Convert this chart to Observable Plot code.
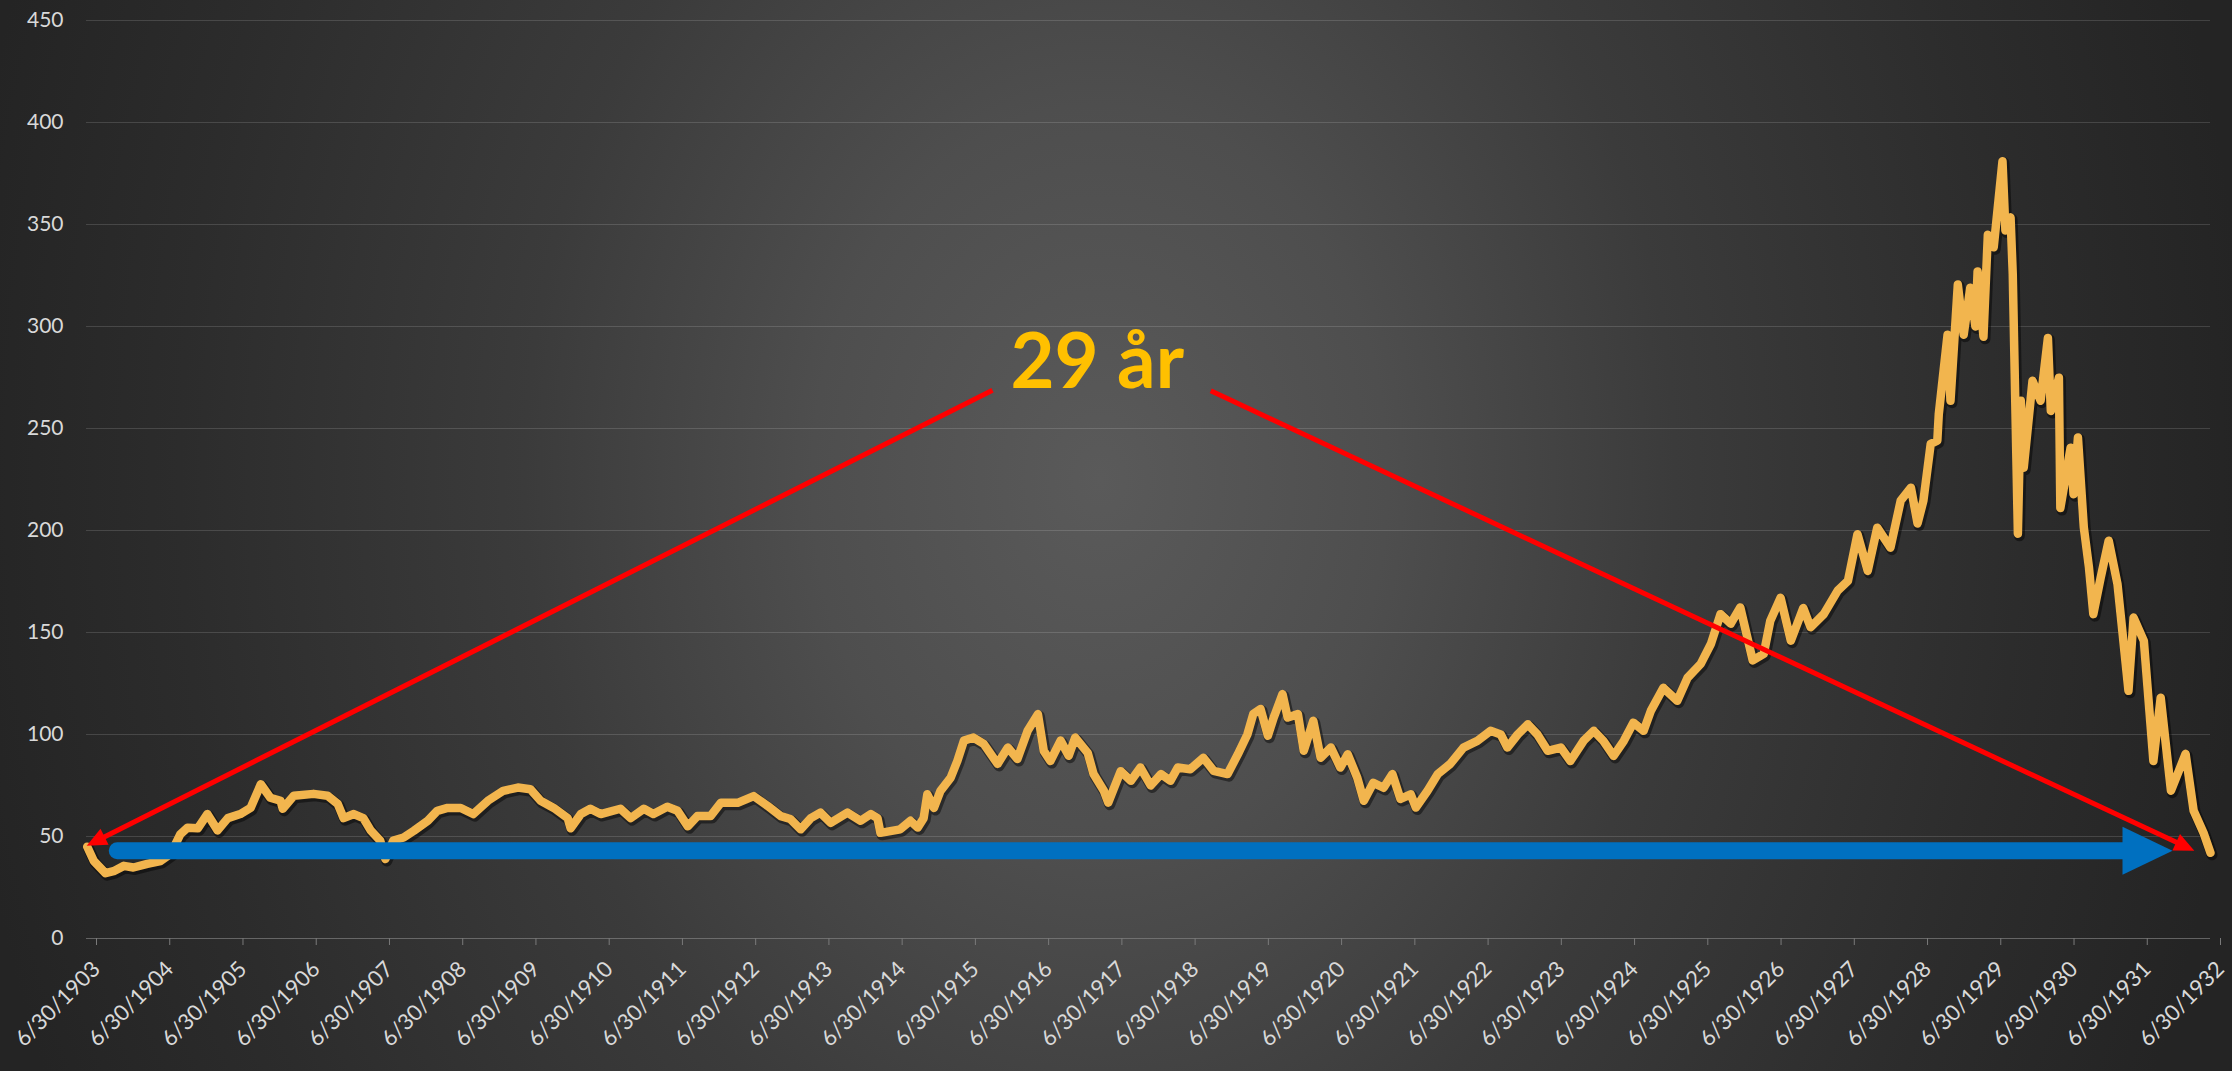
<!DOCTYPE html>
<html>
<head>
<meta charset="utf-8">
<script src="https://cdn.jsdelivr.net/npm/d3@7"></script>
<script src="https://cdn.jsdelivr.net/npm/@observablehq/plot@0.6"></script>
<style>
  html, body { margin: 0; padding: 0; width: 2232px; height: 1071px; overflow: hidden; }
  body {
    background: radial-gradient(ellipse 1150px 1500px at 1100px 480px,
      #5a5a5a 0%, #4e4e4e 25%, #3b3b3b 50%, #2c2c2c 80%, #242424 100%);
  }
  #chart svg { display: block; }
</style>
</head>
<body>
<div id="chart"></div>
<script>
// Dow Jones Industrial Average (decimal years)
const dates = [
  1903.51,1903.60,1903.76,1903.87,1904.01,1904.14,1904.33,1904.51,1904.65,1904.78,1904.88,
  1905.02,1905.15,1905.29,1905.43,1905.60,1905.74,1905.88,1906.01,1906.15,1906.18,1906.33,
  1906.60,1906.79,1906.93,1907.01,1907.15,1907.28,1907.38,1907.51,1907.58,1907.69,1907.83,
  1907.97,1908.16,1908.29,1908.43,1908.61,1908.78,1908.98,1909.19,1909.39,1909.56,1909.70,
  1909.88,1910.07,1910.11,1910.25,1910.38,1910.52,1910.79,1910.93,1911.11,1911.24,1911.43,
  1911.57,1911.71,1911.84,1912.02,1912.16,1912.39,1912.61,1912.80,1912.98,1913.11,1913.25,
  1913.39,1913.52,1913.66,1913.89,1914.07,1914.21,1914.30,1914.34,1914.61,1914.75,1914.85,
  1914.93,1914.98,1915.07,1915.16,1915.30,1915.39,1915.48,1915.61,1915.75,1915.94,1916.08,
  1916.21,1916.35,1916.49,1916.57,1916.66,1916.80,1916.91,1917.00,1917.17,1917.25,1917.39,
  1917.45,1917.62,1917.76,1917.89,1918.03,1918.17,1918.30,1918.40,1918.57,1918.75,1918.89,
  1919.08,1919.22,1919.35,1919.43,1919.53,1919.63,1919.71,1919.83,1919.90,1920.04,1920.12,
  1920.25,1920.35,1920.49,1920.62,1920.72,1920.85,1920.94,1921.07,1921.21,1921.33,1921.44,
  1921.58,1921.65,1921.81,1921.95,1922.12,1922.30,1922.49,1922.67,1922.81,1922.90,1923.04,
  1923.18,1923.31,1923.45,1923.63,1923.76,1923.94,1924.08,1924.21,1924.35,1924.49,1924.62,
  1924.76,1924.86,1925.03,1925.22,1925.36,1925.54,1925.68,1925.81,1925.95,1926.08,1926.25,
  1926.40,1926.49,1926.63,1926.77,1926.94,1927.04,1927.22,1927.41,1927.55,1927.68,1927.82,
  1927.95,1928.13,1928.27,1928.41,1928.50,1928.58,1928.68,1928.77,1928.79,1928.91,1928.95,
  1929.05,1929.13,1929.22,1929.29,1929.32,1929.40,1929.46,1929.54,1929.66,1929.70,1929.77,
  1929.80,1929.87,1929.91,1929.95,1930.07,1930.18,1930.28,1930.32,1930.43,1930.45,1930.59,
  1930.63,1930.69,1930.77,1930.84,1930.90,1931.00,1931.11,1931.23,1931.31,1931.38,1931.45,
  1931.59,1931.72,1931.82,1931.96,1932.16,1932.27,1932.41,1932.50
];
const values = [
  45,38,32,33,35.6,34.8,36.6,38,41.5,51,54.3,
  54,61,53,59,61,64,75.6,69,67.5,63.6,70,
  70.9,70,66,59,61,59,53,48,39,48,49.5,
  52.8,57.7,62.6,64,64,61,67.5,72.4,74,73.2,67.5,
  64,59,54,61,63.6,61,63.6,59,63.6,61,64.6,
  62.6,55,60,60,66.5,66.5,69.8,65,60,58.6,53.5,
  59,61.7,56.7,61.7,57.7,61,59,51.8,53.5,57.7,54.4,
  59,70.7,64,72.4,78.9,87,97,98.5,95.4,85.6,93.6,
  88,101.8,110,92,87,97,89.6,98.5,91,80.6,72.4,
  66.6,82,77.3,83.8,75,80.6,77.3,83.8,83,88.6,82.2,
  80.6,90.3,100,110,112.5,99.4,108.3,119.8,108.3,110,92,
  106.7,88.6,93.6,83.8,90.3,78.9,67.5,76.3,73.9,80.6,68.4,
  70.7,64.2,72.4,80.6,85.6,93.6,96.9,101.8,100,93.6,100,
  105,100,92,93.6,87,96.9,101.8,96.9,89.5,96.9,105.8,
  101.8,111.7,122.9,116.5,127.8,134.6,144.5,159,154.3,162.3,136.3,
  139.5,155.8,167,146,162,152.6,159,170.5,175.3,198.2,180.2,
  201.4,191.6,214.6,221,203.4,214.6,242.5,244,257,296,263.6,
  320.6,296,319,300,327,295,345,338.8,381,347,353.5,
  325.7,198.4,263.6,230.8,273.4,263.6,294.4,258.6,274.9,211,240.6,
  217.8,245.6,201.6,182,159,176.8,195,173.7,145.9,121.4,157.3,
  145.9,87,118,72.4,90.5,62.6,51.3,42
];

const yTicks = [0, 50, 100, 150, 200, 250, 300, 350, 400, 450];
const tickYears = d3.range(1903, 1933);
const xTicks = tickYears.map(y => y + 0.5);          // 30 June of each year
const xTickLabels = tickYears.map(y => `6/30/${y}`);

// Annotations (data coordinates)
const redFromX = [1915.87, 1918.85];
const redFromY = [268.8, 268.5];
const redToX   = [1903.60, 1932.18];
const redToY   = [47.2, 44.7];
const blueFromX = [1903.92];
const blueToX   = [1931.64];
const blueY     = [43];
const labelX = [1917.3];
const labelY = [270];
const labelText = ["29 år"];

const series = dates.map((d, i) => ({date: d, value: values[i]}));

const chart = Plot.plot({
  width: 2232,
  height: 1071,
  marginLeft: 86,
  marginRight: 22,
  marginTop: 20,
  marginBottom: 133,
  style: {background: "transparent", color: "#d9d9d9", fontFamily: "Lato, 'Open Sans', sans-serif"},
  x: {domain: [1903.5, 1932.5]},
  y: {domain: [0, 450]},
  marks: [
    Plot.gridY(yTicks, {stroke: "#ffffff", strokeOpacity: 0.14, strokeWidth: 1.2}),
    Plot.ruleY([0], {stroke: "#7a7a7a", strokeOpacity: 0.6, strokeWidth: 1.2}),
    Plot.axisY(yTicks, {
      tickSize: 0, tickPadding: 23, fontSize: 21, fill: "#d9d9d9", label: null
    }),
    Plot.axisX(xTicks, {
      tickSize: 7, tickPadding: 20, tickRotate: -45, fontSize: 22,
      stroke: "#7a7a7a", fill: "#d9d9d9", label: null, dx: 10,
      tickFormat: d => xTickLabels[Math.round(d - 1903.5)]
    }),
    // soft shadow under the index line
    Plot.line(series, {x: "date", y: "value", stroke: "#000", strokeOpacity: 0.45,
      strokeWidth: 11, dx: 1.5, dy: 2, strokeLinejoin: "round", strokeLinecap: "round"}),
    Plot.line(series, {x: "date", y: "value", stroke: "#F2B54E",
      strokeWidth: 8.5, strokeLinejoin: "round", strokeLinecap: "round"}),
    Plot.link(blueY, {
      x1: blueFromX, x2: blueToX, y1: blueY, y2: blueY,
      stroke: "#0070C0", strokeWidth: 17, strokeLinecap: "round",
      ariaLabel: "blue-arrow", markerEnd: "arrow"
    }),
    Plot.link(redFromX, {
      x1: redFromX, y1: redFromY, x2: redToX, y2: redToY,
      stroke: "#FF0000", strokeWidth: 5, strokeLinecap: "butt",
      ariaLabel: "red-arrow", markerEnd: "arrow"
    }),
    Plot.text(labelText, {
      x: labelX, y: labelY, text: d => d, lineAnchor: "bottom",
      fill: "#FFC000", fontSize: 76, fontWeight: "bold",
      fontFamily: "Lato, 'Open Sans', sans-serif"
    })
  ]
});

// Replace the stroked arrowheads with filled triangles
const NS = "http://www.w3.org/2000/svg";
function makeMarker(id, color, vb, w, h, d) {
  const m = document.createElementNS(NS, "marker");
  m.setAttribute("id", id);
  m.setAttribute("viewBox", vb);
  m.setAttribute("markerWidth", w);
  m.setAttribute("markerHeight", h);
  m.setAttribute("markerUnits", "userSpaceOnUse");
  m.setAttribute("refX", 0);
  m.setAttribute("refY", 0);
  m.setAttribute("orient", "auto");
  const p = document.createElementNS(NS, "path");
  p.setAttribute("d", d);
  p.setAttribute("fill", color);
  m.appendChild(p);
  return m;
}
const defs = document.createElementNS(NS, "defs");
defs.appendChild(makeMarker("head-blue", "#0070C0", "-30 -30 60 60", 60, 60, "M-25,-24L25,0L-25,24Z"));
defs.appendChild(makeMarker("head-red", "#FF0000", "-20 -12 40 24", 40, 24, "M-12,-9L8,0L-12,9Z"));
chart.insertBefore(defs, chart.firstChild);
const links = chart.querySelectorAll('g[aria-label="link"], g[aria-label="blue-arrow"], g[aria-label="red-arrow"]');
const blueG = chart.querySelector('g[aria-label="blue-arrow"]') || links[0];
const redG = chart.querySelector('g[aria-label="red-arrow"]') || links[1];
blueG.querySelectorAll("path").forEach(p => p.setAttribute("marker-end", "url(#head-blue)"));
redG.querySelectorAll("path").forEach(p => p.setAttribute("marker-end", "url(#head-red)"));

document.getElementById("chart").appendChild(chart);
</script>
</body>
</html>
